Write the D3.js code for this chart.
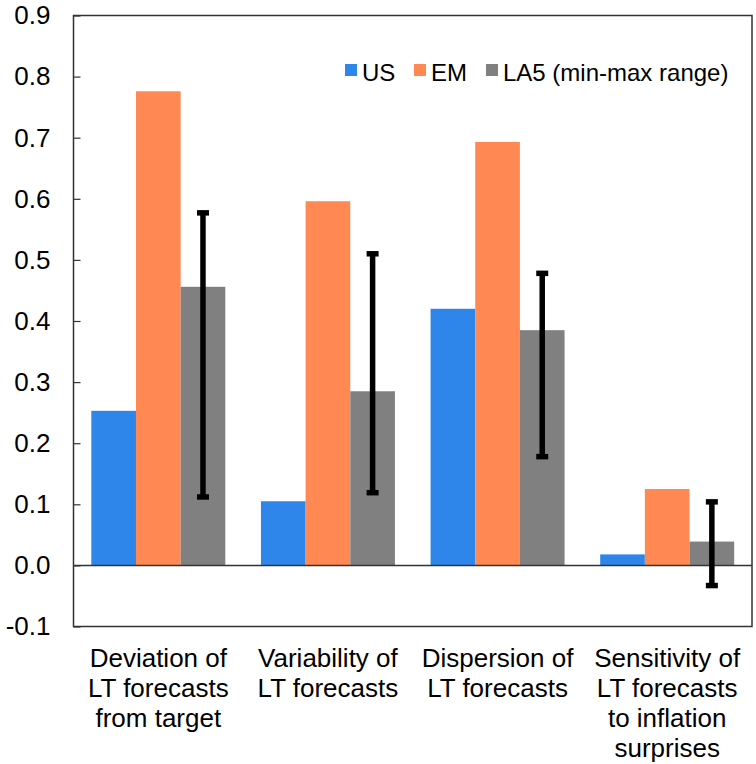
<!DOCTYPE html>
<html>
<head>
<meta charset="utf-8">
<script src="https://cdn.jsdelivr.net/npm/d3@7"></script>
<style>
  html, body { margin: 0; padding: 0; background: #fff; }
  svg { display: block; font-family: "Liberation Sans", Arial, sans-serif; }
</style>
</head>
<body>
<svg id="chart"></svg>
<script>
// data
const categories = [
  ['Deviation of', 'LT forecasts', 'from target'],
  ['Variability of', 'LT forecasts'],
  ['Dispersion of', 'LT forecasts'],
  ['Sensitivity of', 'LT forecasts', 'to inflation', 'surprises']
];
const seriesNames = ['US', 'EM', 'LA5 (min-max range)'];
const usValues = [0.253, 0.105, 0.420, 0.018];
const emValues = [0.776, 0.596, 0.693, 0.125];
const la5Values = [0.456, 0.285, 0.385, 0.039];
const la5Min = [0.112, 0.119, 0.178, -0.033];
const la5Max = [0.577, 0.510, 0.478, 0.104];
const yTicks = [-0.1, 0, 0.1, 0.2, 0.3, 0.4, 0.5, 0.6, 0.7, 0.8, 0.9];

const colors = ['#2E86EB', '#FF8853', '#808080'];

const width = 756;
const height = 764;
const plot = { left: 73.5, top: 15.5, right: 752, bottom: 626.5 };

const svg = d3.select('#chart').attr('width', width).attr('height', height);

const x0 = d3.scaleBand()
  .domain(d3.range(categories.length))
  .range([plot.left, plot.right])
  .paddingInner(0.21)
  .paddingOuter(0.105);

const x1 = d3.scaleBand()
  .domain(d3.range(seriesNames.length))
  .range([0, x0.bandwidth()]);

const y = d3.scaleLinear().domain([-0.1, 0.9]).range([plot.bottom, plot.top]);

const values = [usValues, emValues, la5Values];

// bars
const groups = svg.append('g')
  .selectAll('g')
  .data(d3.range(categories.length))
  .join('g')
  .attr('transform', (i) => `translate(${x0(i)},0)`);

groups.selectAll('rect')
  .data((i) => values.map((s, k) => ({ k, v: s[i] })))
  .join('rect')
  .attr('x', (d) => x1(d.k))
  .attr('width', x1.bandwidth())
  .attr('y', (d) => y(Math.max(0, d.v)))
  .attr('height', (d) => Math.abs(y(d.v) - y(0)))
  .attr('fill', (d) => colors[d.k]);

// zero line
svg.append('line')
  .attr('x1', plot.left).attr('x2', plot.right)
  .attr('y1', y(0)).attr('y2', y(0))
  .attr('stroke', '#333').attr('stroke-width', 1.5);

// error bars on LA5
const err = svg.append('g')
  .selectAll('g')
  .data(d3.range(categories.length))
  .join('g')
  .attr('transform', (i) => `translate(${x0(i) + x1(2) + x1.bandwidth() / 2},0)`);

err.append('line')
  .attr('y1', (i) => y(la5Min[i]))
  .attr('y2', (i) => y(la5Max[i]))
  .attr('stroke', '#000').attr('stroke-width', 5.5);

err.selectAll('.cap')
  .data((i) => [la5Min[i], la5Max[i]])
  .join('line')
  .attr('class', 'cap')
  .attr('x1', -6).attr('x2', 6)
  .attr('y1', (d) => y(d)).attr('y2', (d) => y(d))
  .attr('stroke', '#000').attr('stroke-width', 5.5);

// frame
svg.append('rect')
  .attr('x', plot.left).attr('y', plot.top)
  .attr('width', plot.right - plot.left)
  .attr('height', plot.bottom - plot.top)
  .attr('fill', 'none')
  .attr('stroke', '#333').attr('stroke-width', 1.5);

// y axis
const yAxis = svg.append('g')
  .attr('transform', `translate(${plot.left},0)`)
  .call(d3.axisLeft(y).tickValues(yTicks).tickSize(-7).tickPadding(23)
    .tickFormat((d) => d.toFixed(1)));
yAxis.select('.domain').remove();
yAxis.selectAll('.tick line').attr('stroke', '#333').attr('stroke-width', 1.2);
yAxis.selectAll('.tick text')
  .attr('font-size', 26)
  .attr('fill', '#000')
  .attr('font-family', '"Liberation Sans", Arial, sans-serif');

// category labels
const cat = svg.append('g')
  .selectAll('text')
  .data(categories)
  .join('text')
  .attr('x', (d, i) => x0(i) + x0.bandwidth() / 2)
  .attr('y', 667)
  .attr('text-anchor', 'middle')
  .attr('font-size', 26)
  .attr('fill', '#000');

cat.selectAll('tspan')
  .data((d) => d)
  .join('tspan')
  .attr('x', function () { return this.parentNode.getAttribute('x'); })
  .attr('dy', (d, j) => (j === 0 ? 0 : 30))
  .text((d) => d);

// legend
const legendX = [345, 414, 486];
const legend = svg.append('g')
  .selectAll('g')
  .data(seriesNames)
  .join('g')
  .attr('transform', (d, i) => `translate(${legendX[i]},64)`);

legend.append('rect')
  .attr('width', 12).attr('height', 12)
  .attr('fill', (d, i) => colors[i]);

legend.append('text')
  .attr('x', 17).attr('y', 16.5)
  .attr('font-size', 24)
  .attr('fill', '#000')
  .text((d) => d);
</script>
</body>
</html>
